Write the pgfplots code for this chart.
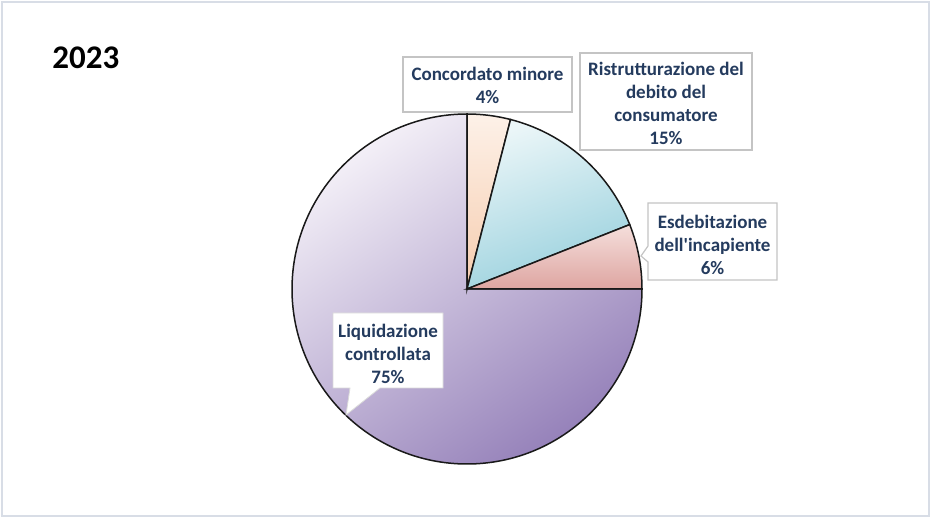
\documentclass[border=0pt]{standalone}
\usepackage{pgfplots}
\usepackage{pgfplotstable}
\pgfplotsset{compat=1.18}
\usepackage{fontspec}
\setmainfont{Carlito}[Ligatures=TeXOff]

\definecolor{labelblue}{HTML}{243B5E}
\definecolor{boxgray}{HTML}{C4C4C4}
\definecolor{framegray}{HTML}{D8DDE6}

% shares in percent, clockwise from 12 o'clock
\pgfplotstableread{
share
4
15
6
75
}\piedata
\pgfplotstablegetelem{0}{share}\of\piedata\let\sA\pgfplotsretval
\pgfplotstablegetelem{1}{share}\of\piedata\let\sB\pgfplotsretval
\pgfplotstablegetelem{2}{share}\of\piedata\let\sC\pgfplotsretval
\pgfplotstablegetelem{3}{share}\of\piedata\let\sD\pgfplotsretval
\pgfmathsetmacro\aA{90}
\pgfmathsetmacro\aB{\aA-3.6*\sA}
\pgfmathsetmacro\aC{\aB-3.6*\sB}
\pgfmathsetmacro\aD{\aC-3.6*\sC}
\pgfmathsetmacro\aE{\aD-3.6*\sD}

\begin{document}
\begin{tikzpicture}
\begin{axis}[
    x=0.5pt, y=0.5pt,
    xmin=0, xmax=931, ymin=0, ymax=518,
    hide axis, clip=false,
    ]
\coordinate (ll) at (axis cs:0,0);
\coordinate (ur) at (axis cs:931,518);
% page and frame
\fill[white] (axis cs:0,0) rectangle (axis cs:931,518);
\draw[framegray, line width=1pt] (axis cs:2,2) rectangle (axis cs:929,516);

% slices
\shadedraw[top color={rgb,255:red,243;green,239;blue,247}, middle color={rgb,255:red,186;green,170;blue,212},
    bottom color={rgb,255:red,150;green,130;blue,186},
    shading angle=35, draw=black!90, line width=0.75pt]
    (axis cs:467,229) -- ++(\aD:87.5pt) arc[start angle=\aD, end angle=\aE, radius=87.5pt] -- cycle;
\shadedraw[top color={rgb,255:red,253;green,241;blue,232}, bottom color={rgb,255:red,246;green,204;blue,174},
    draw=black!90, line width=0.75pt]
    (axis cs:467,229) -- ++(\aA:87.5pt) arc[start angle=\aA, end angle=\aB, radius=87.5pt] -- cycle;
\shadedraw[top color={rgb,255:red,235;green,246;blue,248}, bottom color={rgb,255:red,152;green,208;blue,221},
    shading angle=20, draw=black!90, line width=0.75pt]
    (axis cs:467,229) -- ++(\aB:87.5pt) arc[start angle=\aB, end angle=\aC, radius=87.5pt] -- cycle;
\shadedraw[top color={rgb,255:red,245;green,223;blue,220}, bottom color={rgb,255:red,222;green,165;blue,161},
    draw=black!90, line width=0.75pt]
    (axis cs:467,229) -- ++(\aC:87.5pt) arc[start angle=\aC, end angle=\aD, radius=87.5pt] -- cycle;

% callouts
\filldraw[fill=white, draw=boxgray, line width=0.6pt]
    (axis cs:403,461) rectangle (axis cs:572,406);
\filldraw[fill=white, draw=boxgray, line width=0.6pt]
    (axis cs:580,465) rectangle (axis cs:752,368);
\filldraw[fill=white, draw=boxgray, line width=0.6pt]
    (axis cs:648,315) -- (axis cs:777,315) -- (axis cs:777,238) -- (axis cs:648,238)
    -- (axis cs:648,256) -- (axis cs:641,262) -- (axis cs:648,272) -- cycle;
\filldraw[fill=white, draw=white!85!black, line width=0.4pt]
    (axis cs:333,205) -- (axis cs:443,205) -- (axis cs:443,130) -- (axis cs:380,130)
    -- (axis cs:346,103) -- (axis cs:350,130) -- (axis cs:333,130) -- cycle;

\begin{scope}[every node/.style={font=\fontsize{9.5}{11.5}\selectfont\bfseries,
    text=labelblue, align=center, inner sep=0pt}]
\node at (axis cs:487.5,433) {Concordato minore\\4\%};
\node at (axis cs:666,415) {Ristrutturazione del\\debito del\\consumatore\\15\%};
\node at (axis cs:712.5,273.5) {Esdebitazione\\dell'incapiente\\6\%};
\node at (axis cs:388,164.5) {Liquidazione\\controllata\\75\%};
\end{scope}

\node[anchor=base west, inner sep=0pt, font=\fontsize{16.5}{19}\selectfont\bfseries]
    at (axis cs:52,449) {2023};
\end{axis}
\pgfresetboundingbox
\path[use as bounding box] (ll) rectangle (ur);
\end{tikzpicture}
\end{document}
